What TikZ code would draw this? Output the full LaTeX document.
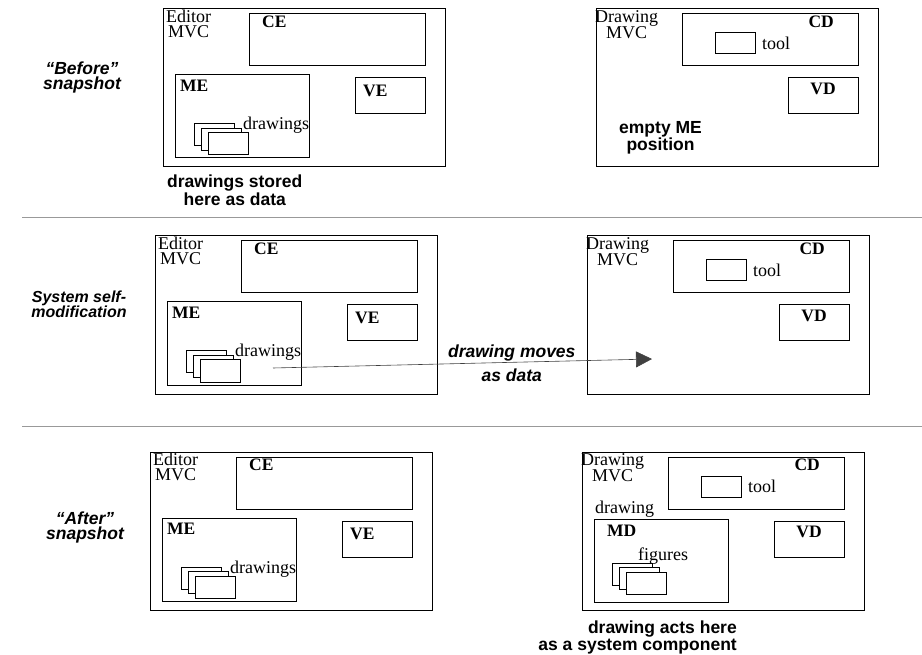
\documentclass[tikz,border=0pt]{standalone}
\usepackage{fontspec}
\setmainfont{Liberation Serif}
\setsansfont{Liberation Sans}
\usetikzlibrary{arrows.meta,positioning}

% three stacked sheets
\newcommand{\pages}[3]{%
  \foreach \i in {0,1,2}
    \node[sheet] (#1\i) at ({#2+7*\i},{#3+4.5*\i}) {};}

% editor MVC panel: name, x, y
\newcommand{\editorpanel}[3]{%
  \begin{scope}[shift={(#2,#3)}]
    \node[box, minimum width=282pt, minimum height=158pt] (#1) at (0,0) {};
    \node[mvclbl] (#1-mvc) at (3,1) {Editor\\MVC};
    \node[box, minimum width=176pt, minimum height=52pt] (#1-c) at (86,5) {};
    \node[boxlbl, below right=2pt and 13pt of #1-c.north west] (#1-cl) {CE};
    \node[box, minimum width=134pt, minimum height=83pt] (#1-m) at (12,66) {};
    \node[boxlbl, below right=5pt and 5pt of #1-m.north west] (#1-ml) {ME};
    \node[box, minimum width=70pt, minimum height=36pt] (#1-v) at (192,69) {};
    \node[boxlbl, below right=7pt and 8pt of #1-v.north west] (#1-vl) {VE};
    \pages{#1-p}{31}{115}
    \node[serif, anchor=base west] (#1-dl) at (80,121) {drawings};
  \end{scope}}

% drawing MVC panel: name, x, y
\newcommand{\drawingpanel}[3]{%
  \begin{scope}[shift={(#2,#3)}]
    \node[box, minimum width=282pt, minimum height=158pt] (#1) at (0,0) {};
    \node[mvclbl] (#1-mvc) at (-1,1) {Drawing\\MVC};
    \node[box, minimum width=176pt, minimum height=52pt] (#1-c) at (86,5) {};
    \node[boxlbl, below left=2pt and 24pt of #1-c.north east] (#1-cl) {CD};
    \node[box, minimum width=40pt, minimum height=21pt] (#1-tool) at (119,24) {};
    \node[serif, right=7pt of #1-tool] (#1-tl) {tool};
    \node[box, minimum width=70pt, minimum height=36pt] (#1-v) at (192,69) {};
    \node[boxlbl, below=5pt of #1-v.north] (#1-vl) {VD};
  \end{scope}}

\begin{document}
\begin{tikzpicture}[x=1pt, y=-1pt,
  box/.style={draw, line width=1pt, anchor=north west, inner sep=0pt, outer sep=0pt},
  sheet/.style={box, fill=white, minimum width=40pt, minimum height=22pt},
  serif/.style={inner sep=0pt, font=\fontsize{18}{15}\selectfont},
  boxlbl/.style={serif, font=\fontsize{17.5}{15}\selectfont\bfseries},
  mvclbl/.style={serif, align=center, anchor=north west},
  note/.style={inner sep=0pt, align=center, font=\sffamily\bfseries\fontsize{17.5}{15}\selectfont},
  rowlbl/.style={note, font=\sffamily\bfseries\itshape\fontsize{17.5}{15}\selectfont},
  sep/.style={draw=gray!80, line width=1pt},
  arr/.style={-{Triangle[length=16pt, width=16pt]}, line width=0.6pt, draw=black!75},
]
  \useasboundingbox (0,0) rectangle (922,655);

  % Before
  \node[rowlbl] (before) at (82,77) {“Before”\\snapshot};
  \editorpanel{eb}{163}{9}
  \drawingpanel{db}{596}{9}
  \node[note, below right=8pt and 4pt of eb.south west] (stored) {drawings stored\\here as data};
  \node[note, anchor=north west] (empty) at (619,121) {empty ME\\position};

  \draw[sep] (22,218) -- (922,218);

  % Self-modification
  \node[rowlbl, font=\sffamily\bfseries\itshape\fontsize{16}{15}\selectfont] (selfmod) at (79,304) {System self-\\modification};
  \editorpanel{em}{155}{236}
  \drawingpanel{dm}{587}{236}
  \coordinate (src) at (273,368);
  \coordinate (dst) at (652,359);
  \draw[arr] (src) -- (dst)
    node[rowlbl, pos=0.63, above=1pt] (moves) {drawing moves}
    node[rowlbl, pos=0.63, below=6pt] (asdata) {as data};

  \draw[sep] (22,426) -- (922,426);

  % After
  \node[rowlbl] (after) at (85,527) {“After”\\snapshot};
  \editorpanel{ea}{150}{452}
  \drawingpanel{da}{582}{452}
  \begin{scope}[shift={(582,452)}]
    \node[serif, anchor=base west] (da-drw) at (13,61) {drawing};
    \node[box, minimum width=134pt, minimum height=83pt] (da-m) at (12,67) {};
    \node[boxlbl, below right=6pt and 13pt of da-m.north west] (da-ml) {MD};
    \node[serif, anchor=base west] (da-fig) at (56,108) {figures};
    \pages{da-p}{30}{111}
  \end{scope}
  \node[note, align=right, anchor=north east] (acts) at (737,621) {drawing acts here\\as a system component};
\end{tikzpicture}
\end{document}
